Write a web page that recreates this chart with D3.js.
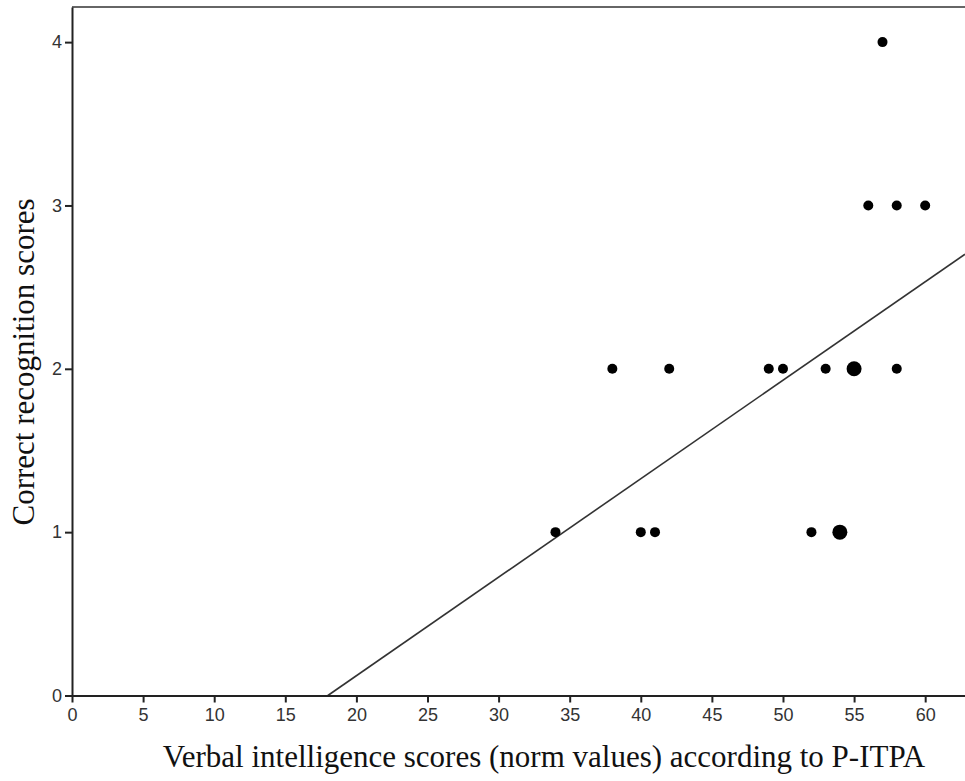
<!DOCTYPE html>
<meta charset="utf-8">
<script src="https://d3js.org/d3.v7.min.js"></script>
<style>
body { margin: 0; background: #fff; }
.axislabel { font-family: "Liberation Serif", "Times New Roman", serif; font-size: 31px; fill: #111; }
</style>
<div id="chart"></div>
<script>
// data
var verbalScores = [34, 38, 40, 41, 42, 49, 50, 52, 53, 54, 55, 56, 57, 58, 58, 60];
var recognitionScores = [1, 2, 1, 1, 2, 2, 2, 1, 2, 1, 2, 3, 4, 3, 2, 3];
var pointCounts = [1, 1, 1, 1, 1, 1, 1, 1, 1, 2, 2, 1, 1, 1, 1, 1]; // bigger dot = overlapping cases
var xTicks = [0, 5, 10, 15, 20, 25, 30, 35, 40, 45, 50, 55, 60];
var yTicks = [0, 1, 2, 3, 4];
var fitIntercept = -1.085, fitSlope = 0.0603;

var W = 965, H = 781;
var margin = {top: 7, right: 0, bottom: 85, left: 72};

var svg = d3.select("#chart").append("svg")
  .attr("width", W).attr("height", H);

var x = d3.scaleLinear().domain([0, 62.8]).range([margin.left, W - margin.right]);
var y = d3.scaleLinear().domain([0, 4.215]).range([H - margin.bottom - 0.5, margin.top]);

// frame top line
svg.append("line")
  .attr("x1", x(0)).attr("x2", W)
  .attr("y1", margin.top).attr("y2", margin.top)
  .attr("stroke", "#666").attr("stroke-width", 2);

// regression line, clipped to the plot
var x0 = -fitIntercept / fitSlope, x1 = 62.8;
svg.append("line")
  .attr("x1", x(x0)).attr("y1", y(0))
  .attr("x2", x(x1)).attr("y2", y(fitIntercept + fitSlope * x1))
  .attr("stroke", "#333").attr("stroke-width", 1.6);

// axes
var xAxis = svg.append("g")
  .attr("transform", "translate(0," + y(0) + ")")
  .call(d3.axisBottom(x).tickValues(xTicks).tickFormat(d3.format("d"))
    .tickSize(7).tickPadding(6).tickSizeOuter(0));
var yAxis = svg.append("g")
  .attr("transform", "translate(" + x(0) + ",0)")
  .call(d3.axisLeft(y).tickValues(yTicks).tickFormat(d3.format("d"))
    .tickSize(7).tickPadding(3).tickSizeOuter(0));

[xAxis, yAxis].forEach(function(g) {
  g.attr("font-family", "Liberation Sans, Arial, sans-serif").attr("font-size", 18);
  g.select(".domain").attr("stroke", "#222").attr("stroke-width", 2);
  g.selectAll(".tick line").attr("stroke", "#222").attr("stroke-width", 2);
  g.selectAll(".tick text").attr("fill", "#333");
});

// points
svg.append("g").selectAll("circle")
  .data(verbalScores)
  .enter().append("circle")
    .attr("cx", function(d) { return x(d); })
    .attr("cy", function(d, i) { return y(recognitionScores[i]); })
    .attr("r", function(d, i) { return pointCounts[i] > 1 ? 7.5 : 5; })
    .attr("fill", "#000");

// axis labels
svg.append("text")
  .attr("class", "axislabel")
  .attr("text-anchor", "middle")
  .attr("x", 544).attr("y", 767)
  .text("Verbal intelligence scores (norm values) according to P-ITPA");

svg.append("text")
  .attr("class", "axislabel")
  .attr("text-anchor", "middle")
  .attr("transform", "translate(34,362) rotate(-90)")
  .text("Correct recognition scores");
</script>
